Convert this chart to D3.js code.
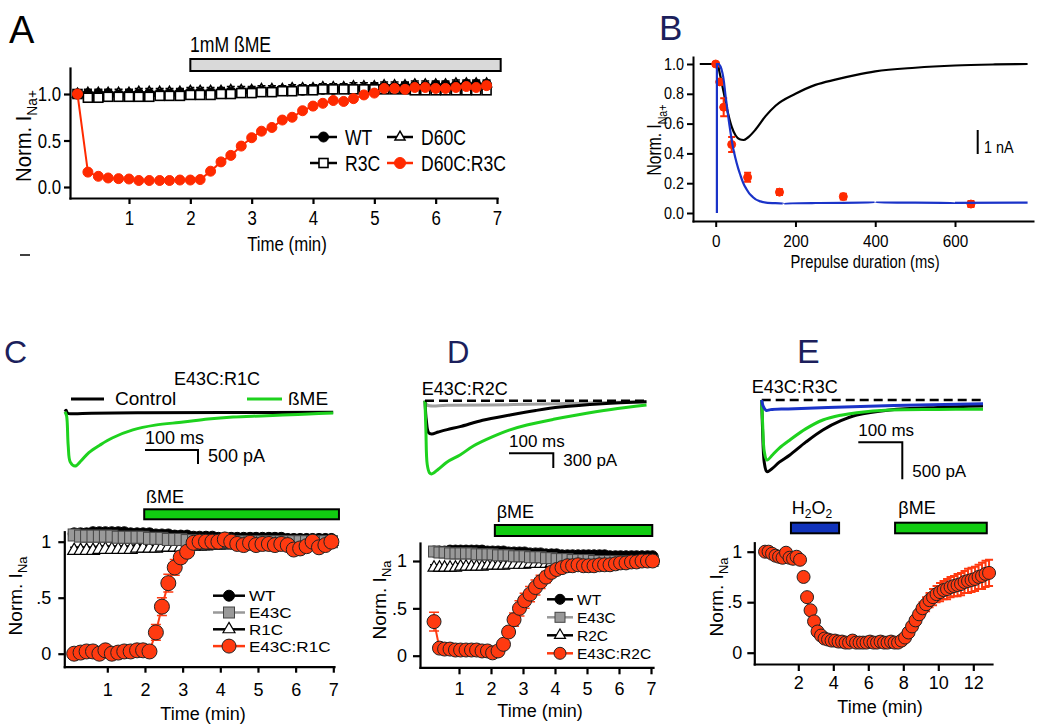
<!DOCTYPE html>
<html><head><meta charset="utf-8">
<script src="https://cdn.jsdelivr.net/npm/d3@7"></script>
<style>body{margin:0;background:#fff}svg{display:block}</style>
</head><body>
<script>
// ---------------- DATA ----------------
// Panel A
const A_time = [0.16,0.33,0.5,0.66,0.83,1.0,1.16,1.33,1.5,1.66,1.83,2.0,2.16,2.33,2.5,2.66,2.83,3.0,3.16,3.33,3.5,3.66,3.83,4.0,4.16,4.33,4.5,4.66,4.83,5.0,5.16,5.33,5.5,5.66,5.83,6.0,6.16,6.33,6.5,6.66,6.83];
const A_D60CR3C = [1.0,0.16,0.115,0.097,0.09,0.086,0.07,0.07,0.07,0.07,0.075,0.075,0.08,0.17,0.27,0.34,0.44,0.53,0.60,0.64,0.72,0.75,0.82,0.87,0.90,0.93,0.92,0.95,0.99,1.01,1.06,1.06,1.05,1.07,1.07,1.06,1.06,1.07,1.08,1.07,1.09];
const A_R3C = [1.0,0.96,0.96,0.97,0.97,0.97,0.97,0.97,0.98,0.98,0.98,0.99,0.99,0.99,1.0,1.0,1.01,1.01,1.02,1.02,1.03,1.03,1.04,1.04,1.05,1.05,1.05,1.05,1.05,1.05,1.05,1.05,1.05,1.04,1.04,1.04,1.04,1.04,1.04,1.04,1.04];
const A_WT = [1.0,1.0,1.0,1.0,0.99,1.0,1.0,1.0,1.0,1.0,1.01,1.01,1.01,1.01,1.02,1.02,1.02,1.03,1.03,1.03,1.04,1.04,1.04,1.05,1.05,1.05,1.06,1.06,1.06,1.07,1.07,1.07,1.08,1.08,1.08,1.09,1.09,1.09,1.1,1.1,1.1];
const A_D60C = [1.0,1.01,1.01,1.01,1.01,1.01,1.02,1.02,1.02,1.02,1.02,1.03,1.03,1.03,1.03,1.04,1.04,1.04,1.05,1.05,1.05,1.06,1.06,1.06,1.07,1.07,1.07,1.08,1.08,1.08,1.09,1.09,1.09,1.1,1.1,1.1,1.1,1.11,1.11,1.11,1.11];
const A_err_red = 0.02, A_err_black = 0.04;
const A_bar = [2.0, 7.06];
const A_xticks = [1,2,3,4,5,6,7], A_yticks = [0,0.5,1.0];
const A_legend = ["WT","D60C","R3C","D60C:R3C"];

// Panel B
const B_black = [[-40,1.0],[0,1.0],[5,0.995],[10,0.94],[20,0.81],[30,0.68],[40,0.58],[50,0.52],[60,0.495],[70,0.49],[80,0.505],[100,0.56],[125,0.65],[150,0.72],[200,0.80],[250,0.86],[300,0.895],[350,0.925],[400,0.95],[500,0.975],[600,0.99],[700,0.997],[782,1.0]];
const B_blue = [[3,0],[3,1.0],[8,1.0],[15,0.96],[25,0.78],[35,0.58],[45,0.42],[60,0.27],[75,0.17],[90,0.115],[110,0.08],[130,0.068],[170,0.064],[250,0.067],[400,0.07],[600,0.068],[782,0.07]];
const B_ptsX = [0,10,20,40,80,160,320,640];
const B_ptsY = [1.0,0.88,0.71,0.46,0.24,0.14,0.11,0.06];
const B_ptsE = [0.0,0.02,0.06,0.05,0.03,0.02,0.02,0.02];
const B_xticks = [0,200,400,600], B_yticks = [0,0.2,0.4,0.6,0.8,1.0];

// Panel C
const C_time = [0.12,0.29,0.45,0.62,0.79,0.95,1.12,1.29,1.45,1.62,1.79,1.95,2.12,2.29,2.45,2.62,2.79,2.95,3.12,3.29,3.45,3.62,3.79,3.95,4.12,4.29,4.45,4.62,4.79,4.95,5.12,5.29,5.45,5.62,5.79,5.95,6.12,6.29,6.45,6.62,6.79,6.95];
const C_E43CR1C = [0.0,0.01,0.02,0.02,0.0,0.03,0.0,0.01,0.02,0.02,0.03,0.03,0.02,0.19,0.42,0.63,0.77,0.86,0.91,0.99,1.0,1.0,1.0,1.0,1.02,1.0,0.98,0.97,0.99,0.97,0.98,0.98,0.97,0.98,0.97,0.93,0.94,0.96,1.0,0.95,0.97,1.0];
const C_E43CR1C_err = [0.01,0.01,0.01,0.01,0.01,0.01,0.01,0.01,0.01,0.01,0.01,0.01,0.01,0.07,0.08,0.08,0.07,0.05,0.04,0.03,0.02,0.02,0.02,0.02,0.02,0.02,0.02,0.02,0.02,0.02,0.02,0.02,0.02,0.02,0.02,0.02,0.02,0.02,0.02,0.02,0.02,0.02];
const C_WT = [1.07,1.07,1.07,1.08,1.08,1.08,1.08,1.08,1.08,1.07,1.07,1.07,1.07,1.06,1.06,1.06,1.05,1.05,1.05,1.04,1.04,1.04,1.04,1.03,1.03,1.03,1.03,1.03,1.03,1.03,1.03,1.03,1.03,1.03,1.02,1.02,1.02,1.02,1.02,1.02,1.02,1.02];
const C_E43C = [1.06,1.05,1.05,1.05,1.05,1.05,1.05,1.04,1.04,1.04,1.04,1.04,1.03,1.03,1.03,1.02,1.02,1.02,1.01,1.01,1.01,1.0,1.0,1.0,1.0,1.0,1.0,1.0,1.0,1.0,1.0,1.0,1.0,1.0,1.0,1.0,1.0,1.0,1.0,1.0,1.0,1.0];
const C_R1C = [0.92,0.92,0.92,0.92,0.93,0.93,0.93,0.93,0.93,0.93,0.94,0.94,0.94,0.94,0.95,0.95,0.95,0.95,0.96,0.96,0.96,0.96,0.97,0.97,0.97,0.98,0.98,0.98,0.98,0.99,0.99,0.99,0.99,0.99,1.0,1.0,1.0,1.0,1.0,1.0,1.0,1.0];
const C_err_black = 0.03;
const C_bar = [1.98, 7.15];
const C_xticks = [1,2,3,4,5,6,7], C_yticks = [0,0.5,1];
const C_legend = ["WT","E43C","R1C","E43C:R1C"];
// C traces (ms, pA)
const C_trControl = [[0,0],[2,50],[5,-55],[15,-70],[50,-55],[150,-40],[300,-30],[506,-20]];
const C_trBME = [[0,0],[3,-150],[6,-1200],[10,-1800],[19,-1940],[30,-1760],[45,-1460],[66,-1190],[90,-930],[128,-650],[170,-480],[223,-370],[270,-260],[317,-190],[370,-150],[411,-120],[460,-80],[506,-50]];

// Panel D
const D_time = [0.22,0.39,0.55,0.72,0.89,1.05,1.22,1.39,1.55,1.72,1.89,2.05,2.22,2.39,2.55,2.72,2.89,3.05,3.22,3.39,3.55,3.72,3.89,4.05,4.22,4.39,4.55,4.72,4.89,5.05,5.22,5.39,5.55,5.72,5.89,6.05,6.22,6.39,6.55,6.72,6.89,7.05];
const D_E43CR2C = [0.36,0.08,0.07,0.07,0.06,0.06,0.06,0.06,0.06,0.05,0.05,0.03,0.05,0.12,0.25,0.38,0.50,0.58,0.65,0.72,0.78,0.83,0.88,0.91,0.93,0.95,0.95,0.96,0.95,0.95,0.95,0.96,0.96,0.96,0.97,0.98,0.98,0.99,0.99,1.0,1.0,1.0];
const D_E43CR2C_err = [0.1,0.02,0.02,0.02,0.02,0.02,0.02,0.02,0.02,0.02,0.02,0.02,0.02,0.03,0.05,0.07,0.08,0.08,0.08,0.08,0.07,0.06,0.05,0.04,0.03,0.03,0.03,0.03,0.03,0.03,0.03,0.03,0.03,0.03,0.03,0.03,0.03,0.03,0.03,0.03,0.03,0.03];
const D_WT = [1.1,1.1,1.1,1.11,1.11,1.11,1.11,1.11,1.11,1.11,1.1,1.1,1.1,1.1,1.09,1.09,1.09,1.09,1.08,1.08,1.08,1.07,1.07,1.07,1.06,1.06,1.06,1.06,1.06,1.06,1.06,1.06,1.06,1.05,1.05,1.05,1.05,1.05,1.05,1.05,1.05,1.05];
const D_E43C = [1.1,1.09,1.09,1.08,1.08,1.08,1.08,1.08,1.07,1.07,1.07,1.07,1.06,1.06,1.06,1.05,1.05,1.05,1.04,1.04,1.04,1.03,1.03,1.02,1.02,1.02,1.01,1.01,1.01,1.01,1.0,1.0,1.0,1.0,1.0,1.0,1.0,1.0,1.0,1.0,1.0,1.0];
const D_R2C = [0.93,0.93,0.93,0.93,0.93,0.94,0.94,0.94,0.94,0.94,0.95,0.95,0.95,0.95,0.96,0.96,0.96,0.96,0.97,0.97,0.97,0.97,0.98,0.98,0.98,0.98,0.99,0.99,0.99,0.99,1.0,1.0,1.0,1.0,1.0,1.0,1.0,1.0,1.0,1.0,1.0,1.0];
const D_err_black = 0.03;
const D_bar = [2.12, 7.04];
const D_xticks = [1,2,3,4,5,6,7], D_yticks = [0,0.5,1];
const D_legend = ["WT","E43C","R2C","E43C:R2C"];
const D_trGray = [[0,0],[5,-90],[50,-95],[200,-80],[350,-50],[500,-20]];
const D_trBlack = [[0,0],[3,-400],[8,-650],[15,-680],[30,-640],[50,-590],[79,-530],[130,-400],[192,-292],[250,-200],[305,-130],[400,-60],[500,-20]];
const D_trGreen = [[0,0],[2,-600],[5,-1300],[10,-1470],[15,-1495],[30,-1400],[50,-1250],[79,-1108],[110,-920],[153,-734],[190,-600],[230,-496],[290,-380],[343,-292],[420,-180],[500,-88]];

// Panel E
const E_time = [0.1,0.3,0.5,0.7,0.9,1.1,1.3,1.5,1.7,1.9,2.1,2.3,2.5,2.7,2.9,3.1,3.3,3.5,3.7,3.9,4.1,4.3,4.5,4.7,4.9,5.1,5.3,5.5,5.7,5.9,6.1,6.3,6.5,6.7,6.9,7.1,7.3,7.5,7.7,7.9,8.1,8.3,8.5,8.7,8.9,9.1,9.3,9.5,9.7,9.9,10.1,10.3,10.5,10.7,10.9,11.1,11.3,11.5,11.7,11.9,12.1,12.3,12.5,12.7,12.9];
const E_E43CR3C = [1.0,1.0,0.98,0.96,0.95,0.94,0.99,0.94,0.93,0.95,0.92,0.75,0.55,0.42,0.31,0.21,0.17,0.14,0.13,0.12,0.12,0.11,0.11,0.10,0.10,0.12,0.10,0.10,0.10,0.10,0.11,0.10,0.10,0.11,0.10,0.10,0.11,0.10,0.10,0.12,0.15,0.20,0.26,0.32,0.38,0.44,0.48,0.52,0.55,0.58,0.60,0.62,0.63,0.65,0.66,0.67,0.68,0.70,0.71,0.72,0.73,0.75,0.76,0.78,0.79];
const E_err = [0.02,0.02,0.02,0.02,0.02,0.02,0.02,0.02,0.02,0.02,0.02,0.03,0.03,0.03,0.03,0.03,0.02,0.02,0.02,0.02,0.02,0.02,0.02,0.02,0.02,0.02,0.02,0.02,0.02,0.02,0.02,0.02,0.02,0.02,0.02,0.02,0.02,0.02,0.02,0.02,0.03,0.03,0.04,0.05,0.05,0.06,0.07,0.07,0.08,0.08,0.09,0.09,0.10,0.10,0.10,0.11,0.11,0.11,0.12,0.12,0.12,0.12,0.13,0.13,0.13];
const E_barH2O2 = [1.58, 4.33], E_barBME = [7.53, 12.77];
const E_xticks = [2,4,6,8,10,12], E_yticks = [0,0.5,1];
const E_trBlack = [[0,0],[2,-400],[6,-850],[12,-968],[25,-920],[40,-840],[64,-743],[100,-570],[139,-405],[180,-280],[216,-203],[291,-135],[400,-100],[503,-81]];
const E_trGreen = [[0,0],[2,-300],[6,-700],[12,-810],[25,-740],[40,-650],[64,-540],[100,-390],[139,-270],[180,-205],[216,-171],[291,-135],[400,-128],[503,-125]];
const E_trBlue = [[0,0],[3,-80],[10,-140],[20,-130],[60,-120],[150,-100],[300,-75],[503,-50]];

// ---------------- DRAWING ----------------
const svg = d3.select("body").append("svg").attr("width",1050).attr("height",727);
const REG = '"Liberation Sans",Arial,sans-serif';
const NAVY = '#1c1f5c', RED = '#ff2a00', RED2 = '#ff3a10', GREEN = '#1ed21e', BLUE = '#1a33c8';
const SX = 0.8; // horizontal condensing used for the narrow lettering in panels A and B

function lin(v0,p0,v1,p1,pA,pB){
  const k=(p1-p0)/(v1-v0), inv=p=>v0+(p-p0)/k;
  return d3.scaleLinear().domain([inv(pA),inv(pB)]).range([pA,pB]);
}
function txt(g,x,y,s,o){
  const t=g.append("text").text(s)
    .attr("font-family",REG).attr("font-size",o.size||16)
    .attr("fill",o.fill||"#000").attr("text-anchor",o.anchor||"start");
  if(o.sx) t.attr("transform",`translate(${x},${y}) scale(${o.sx},1)`);
  else t.attr("x",x).attr("y",y);
  return t;
}
function axes(g,x,y,o){
  const ax=d3.axisBottom(x).tickValues(o.xt).tickFormat(o.xf||(d=>d)).tickSize(o.tick).tickSizeOuter(0).tickPadding(o.xpad);
  const ay=d3.axisLeft(y).tickValues(o.yt).tickFormat(o.yf||(d=>d)).tickSize(o.tick).tickSizeOuter(0).tickPadding(o.ypad);
  const gx=g.append("g").attr("transform",`translate(0,${y.range()[0]})`).call(ax);
  const gy=g.append("g").attr("transform",`translate(${x.range()[0]},0)`).call(ay);
  [gx,gy].forEach(a=>{
    a.select(".domain").attr("stroke","#000").attr("stroke-width",o.lw).attr("stroke-linecap","square");
    a.selectAll(".tick line").attr("stroke","#000").attr("stroke-width",o.lw);
    a.selectAll("text").attr("fill","#000").attr("font-family",REG).attr("font-size",o.fs);
  });
  gx.selectAll("text").attr("font-size",o.xfs||o.fs);
  if(o.sx){
    gx.selectAll("text").attr("transform",`scale(${o.sx},1)`);
    gy.selectAll("text").attr("transform",`scale(${o.sx},1)`).attr("x",-(o.tick+o.ypad)/o.sx);
  }
}
function ylabel(g,x,y,sub,o){
  const t=g.append("text").attr("transform",`translate(${x},${y}) rotate(-90)${o.sx?` scale(${o.sx},1)`:""}`)
    .attr("text-anchor","middle").attr("font-family",REG).attr("font-size",o.size).attr("fill","#000");
  t.append("tspan").text("Norm. I");
  t.append("tspan").text(sub).attr("font-size",o.size*0.68).attr("dy",o.size*0.28);
}
function marker(g,type,cx,cy,s,fill,stroke,sw){
  if(type==="circle") g.append("circle").attr("cx",cx).attr("cy",cy).attr("r",s/2).attr("fill",fill).attr("stroke",stroke).attr("stroke-width",sw);
  else if(type==="square") g.append("rect").attr("x",cx-s/2).attr("y",cy-s/2).attr("width",s).attr("height",s).attr("fill",fill).attr("stroke",stroke).attr("stroke-width",sw);
  else if(type==="triangle") g.append("path").attr("transform",`translate(${cx},${cy})`).attr("d",d3.symbol().type(d3.symbolTriangle).size(s*s*0.433)()).attr("fill",fill).attr("stroke",stroke).attr("stroke-width",sw);
}
function series(g,x,y,ts,vs,es,o){
  if(o.line) g.append("path").datum(ts.map((t,i)=>[t,vs[i]]))
    .attr("d",d3.line().x(d=>x(d[0])).y(d=>y(d[1]))).attr("fill","none").attr("stroke",o.line).attr("stroke-width",o.lw||2);
  if(es!=null) ts.forEach((t,i)=>{
    const e=Array.isArray(es)?es[i]:es; if(!e) return;
    const cx=x(t), y1=y(vs[i]-e), y2=y(vs[i]+e), c=o.cap;
    g.append("path").attr("d",`M${cx},${y1}V${y2}M${cx-c},${y1}H${cx+c}M${cx-c},${y2}H${cx+c}`)
      .attr("stroke",o.err).attr("stroke-width",o.ew||1.5).attr("fill","none");
  });
  ts.forEach((t,i)=>marker(g,o.marker,x(t),y(vs[i]),o.size,o.fill,o.stroke,o.sw));
}
function legendItem(g,x1,x2,y,label,o){
  g.append("line").attr("x1",x1).attr("x2",x2).attr("y1",y).attr("y2",y).attr("stroke",o.line).attr("stroke-width",o.lw||2.5);
  marker(g,o.marker,(x1+x2)/2,y,o.size,o.fill,o.stroke,o.sw);
  txt(g,x2+o.gap,y+o.fsz*0.36,label,{size:o.fsz,sx:o.sx});
}
function bar(g,x,t0,t1,y0,h,fill){
  g.append("rect").attr("x",x(t0)).attr("y",y0).attr("width",x(t1)-x(t0)).attr("height",h)
    .attr("fill",fill).attr("stroke","#000").attr("stroke-width",2);
}
function trace(g,xs,ys,data,color,w,dash){
  const p=g.append("path").datum(data).attr("d",d3.line().x(d=>xs(d[0])).y(d=>ys(d[1])).curve(d3.curveCatmullRom.alpha(0.5)))
    .attr("fill","none").attr("stroke",color).attr("stroke-width",w).attr("stroke-linejoin","round");
  if(dash) p.attr("stroke-dasharray",dash);
}
function scaleBar(g,xs,ys,cornerX,cornerY,ms,pA,lab1,lab2,fs){
  const w=xs(ms)-xs(0), h=ys(-pA)-ys(0);
  g.append("path").attr("d",`M${cornerX-w},${cornerY}H${cornerX}V${cornerY+h}`).attr("fill","none").attr("stroke","#000").attr("stroke-width",2);
  txt(g,cornerX-w,cornerY-6,lab1,{size:fs});
  txt(g,cornerX+10,cornerY+h-2,lab2,{size:fs});
}

// ===== Panel A =====
{
  const g=svg.append("g");
  const x=lin(1,129,7,497,70,497), y=lin(0,187,1,94,198,68);
  txt(g,9,43,"A",{size:38});
  txt(g,190,52,"1mM ßME",{size:22,sx:SX});
  bar(g,x,A_bar[0],A_bar[1],59,12,"#d9d9d9");
  axes(g,x,y,{xt:A_xticks,yt:A_yticks,yf:d3.format(".1f"),tick:6,xpad:6,ypad:3,lw:2.2,fs:21,xfs:21,sx:SX});
  ylabel(g,31,136,"Na+",{size:22,sx:0.92});
  txt(g,287,251,"Time (min)",{size:21,anchor:"middle",sx:SX});
  g.append("line").attr("x1",20).attr("x2",30).attr("y1",255).attr("y2",255).attr("stroke","#000").attr("stroke-width",1.5);
  series(g,x,y,A_time,A_D60C,A_err_black,{marker:"triangle",size:10,fill:"#fff",stroke:"#000",sw:1.5,line:"#000",lw:1.5,err:"#000",cap:4});
  series(g,x,y,A_time,A_WT,A_err_black,{marker:"circle",size:10,fill:"#000",stroke:"#000",sw:1,line:"#000",lw:1.5,err:"#000",cap:4});
  series(g,x,y,A_time,A_R3C,A_err_black,{marker:"square",size:9,fill:"#fff",stroke:"#000",sw:1.6,line:"#000",lw:1.5,err:"#000",cap:4});
  series(g,x,y,A_time,A_D60CR3C,A_err_red,{marker:"circle",size:10,fill:RED,stroke:RED,sw:1,line:RED,lw:2,err:RED,cap:4});
  const lo={fsz:22,gap:8,lw:2.5,sx:SX};
  legendItem(g,310,337,137,A_legend[0],{...lo,marker:"circle",size:10,fill:"#000",stroke:"#000",sw:1,line:"#000"});
  legendItem(g,387,413,137,A_legend[1],{...lo,marker:"triangle",size:10,fill:"#fff",stroke:"#000",sw:1.5,line:"#000"});
  legendItem(g,310,337,163,A_legend[2],{...lo,marker:"square",size:9,fill:"#fff",stroke:"#000",sw:1.6,line:"#000"});
  legendItem(g,387,413,163,A_legend[3],{...lo,marker:"circle",size:11,fill:RED,stroke:RED,sw:1,line:RED});
}

// ===== Panel B =====
{
  const g=svg.append("g");
  const x=lin(0,715.7,600,955,693,1033), y=lin(0,213,1,64,221,57);
  txt(g,659,40,"B",{size:35,fill:NAVY});
  axes(g,x,y,{xt:B_xticks,yt:B_yticks,yf:d3.format(".1f"),tick:6,xpad:8,ypad:3,lw:2,fs:16,xfs:17,sx:0.9});
  ylabel(g,661,140,"Na+",{size:20,sx:0.78});
  txt(g,865,268,"Prepulse duration (ms)",{size:18,anchor:"middle",sx:0.82});
  const line=d3.line().x(d=>x(d[0])).y(d=>y(d[1])).curve(d3.curveMonotoneX);
  g.append("path").datum(B_black).attr("d",line).attr("fill","none").attr("stroke","#000").attr("stroke-width",2.2);
  series(g,x,y,B_ptsX,B_ptsY,B_ptsE,{marker:"circle",size:8,fill:RED,stroke:RED,sw:1,err:RED,cap:3.5,ew:2});
  g.append("path").datum(B_blue).attr("d",d3.line().x(d=>x(d[0])).y(d=>y(d[1])).curve(d3.curveMonotoneY)).attr("fill","none").attr("stroke",BLUE).attr("stroke-width",2.2);
  g.append("line").attr("x1",977.7).attr("x2",977.7).attr("y1",130).attr("y2",154).attr("stroke","#000").attr("stroke-width",2);
  txt(g,984,153,"1 nA",{size:16,sx:0.9});
}

// ===== Panel C =====
{
  const g=svg.append("g");
  txt(g,4,363,"C",{size:32,fill:NAVY});
  txt(g,217,385,"E43C:R1C",{size:18,anchor:"middle"});
  g.append("line").attr("x1",71).attr("x2",104).attr("y1",399).attr("y2",399).attr("stroke","#000").attr("stroke-width",3);
  txt(g,115,405,"Control",{size:19});
  g.append("line").attr("x1",247).attr("x2",282).attr("y1",399).attr("y2",399).attr("stroke",GREEN).attr("stroke-width",3);
  txt(g,288,405,"ßME",{size:19});
  const xs=d3.scaleLinear().domain([0,100]).range([65,118]);
  const ys=d3.scaleLinear().domain([0,-500]).range([411.7,425.7]);
  trace(g,xs,ys,C_trControl,"#000",3);
  trace(g,xs,ys,C_trBME,GREEN,3);
  scaleBar(g,xs,ys,198,450,100,500,"100 ms","500 pA",18);

  const x=lin(1,107.3,7,333.3,64.3,334), y=lin(0,653.7,1,541.7,666.7,531.7);
  txt(g,146,503,"ßME",{size:18});
  bar(g,x,C_bar[0],C_bar[1],509.3,10,"#11cc11");
  axes(g,x,y,{xt:C_xticks,yt:C_yticks,yf:d=>d===0.5?".5":d,tick:6,xpad:11,ypad:7,lw:2.2,fs:18});
  ylabel(g,22,596,"Na",{size:19});
  txt(g,203,720,"Time (min)",{size:18,anchor:"middle"});
  series(g,x,y,C_time,C_WT,C_err_black,{marker:"circle",size:12,fill:"#000",stroke:"#000",sw:1,line:"#000",lw:2,err:"#000",cap:4});
  series(g,x,y,C_time,C_R1C,C_err_black,{marker:"triangle",size:13,fill:"#fff",stroke:"#000",sw:1.2,line:"#000",lw:2,err:"#000",cap:4});
  series(g,x,y,C_time,C_E43C,C_err_black,{marker:"square",size:12,fill:"#999",stroke:"#444",sw:1,line:"#999",lw:2,err:"#777",cap:4});
  series(g,x,y,C_time,C_E43CR1C,C_E43CR1C_err,{marker:"circle",size:15,fill:RED2,stroke:"#222",sw:1,line:RED2,lw:2,err:RED2,cap:5});
  const lo={fsz:15.5,gap:4,lw:2.5,sx:1.1};
  legendItem(g,213,245,595.7,C_legend[0],{...lo,marker:"circle",size:11,fill:"#000",stroke:"#000",sw:1,line:"#000"});
  legendItem(g,213,245,612.5,C_legend[1],{...lo,marker:"square",size:11,fill:"#999",stroke:"#444",sw:1,line:"#999"});
  legendItem(g,213,245,629.3,C_legend[2],{...lo,marker:"triangle",size:12,fill:"#fff",stroke:"#000",sw:1.2,line:"#000"});
  legendItem(g,213,245,646.1,C_legend[3],{...lo,marker:"circle",size:14,fill:RED2,stroke:"#222",sw:1,line:RED2});
}

// ===== Panel D =====
{
  const g=svg.append("g");
  txt(g,447,363,"D",{size:31,fill:NAVY});
  txt(g,421.7,395,"E43C:R2C",{size:18});
  const xs=d3.scaleLinear().domain([0,100]).range([425,469.3]);
  const ys=d3.scaleLinear().domain([0,-300]).range([400.7,415.4]);
  trace(g,xs,ys,D_trGray,"#a0a0a0",3);
  trace(g,xs,ys,D_trBlack,"#000",3);
  trace(g,xs,ys,D_trGreen,GREEN,3);
  trace(g,xs,ys,[[0,0],[500,0]],"#000",2.5,"9,5");
  scaleBar(g,xs,ys,553.3,453.3,100,300,"100 ms","300 pA",17);

  const x=lin(1,459,7,651,420,653), y=lin(0,655.7,1,561,667.3,543);
  txt(g,496.7,518.3,"βME",{size:18});
  bar(g,x,D_bar[0],D_bar[1],525,11,"#11cc11");
  axes(g,x,y,{xt:D_xticks,yt:D_yticks,yf:d=>d===0.5?".5":d,tick:7,xpad:8,ypad:6,lw:2.2,fs:18});
  ylabel(g,386,600,"Na",{size:19});
  txt(g,540,717,"Time (min)",{size:18,anchor:"middle"});
  series(g,x,y,D_time,D_WT,D_err_black,{marker:"circle",size:11,fill:"#000",stroke:"#000",sw:1,line:"#000",lw:2,err:"#000",cap:4});
  series(g,x,y,D_time,D_R2C,D_err_black,{marker:"triangle",size:12,fill:"#fff",stroke:"#000",sw:1.2,line:"#000",lw:2,err:"#000",cap:4});
  series(g,x,y,D_time,D_E43C,D_err_black,{marker:"square",size:11,fill:"#999",stroke:"#444",sw:1,line:"#999",lw:2,err:"#777",cap:4});
  series(g,x,y,D_time,D_E43CR2C,D_E43CR2C_err,{marker:"circle",size:14,fill:RED2,stroke:"#222",sw:1,line:RED2,lw:2,err:RED2,cap:5});
  const lo={fsz:15.5,gap:4,lw:2.5};
  legendItem(g,547,573,599.3,D_legend[0],{...lo,marker:"circle",size:10,fill:"#000",stroke:"#000",sw:1,line:"#000"});
  legendItem(g,547,573,617.3,D_legend[1],{...lo,marker:"square",size:10,fill:"#999",stroke:"#444",sw:1,line:"#999"});
  legendItem(g,547,573,635.3,D_legend[2],{...lo,marker:"triangle",size:11,fill:"#fff",stroke:"#000",sw:1.2,line:"#000"});
  legendItem(g,547,573,653.3,D_legend[3],{...lo,marker:"circle",size:12,fill:RED2,stroke:"#222",sw:1,line:RED2});
}

// ===== Panel E =====
{
  const g=svg.append("g");
  txt(g,797,363,"E",{size:34,fill:NAVY});
  txt(g,751.7,393.3,"E43C:R3C",{size:18});
  const xs=d3.scaleLinear().domain([0,100]).range([761.7,805.7]);
  const ys=d3.scaleLinear().domain([0,-500]).range([400,437]);
  trace(g,xs,ys,E_trBlack,"#000",3);
  trace(g,xs,ys,E_trGreen,GREEN,3);
  trace(g,xs,ys,[[0,0],[503,0]],"#000",2.5,"9,5");
  trace(g,xs,ys,E_trBlue,BLUE,3);
  scaleBar(g,xs,ys,902.3,442.3,100,500,"100 ms","500 pA",17);

  const x=lin(2,798.3,12,973.3,754.3,992), y=lin(0,652.7,1,551.7,664,542.7);
  const h=txt(g,791.7,514,"",{size:18});
  h.append("tspan").text("H"); h.append("tspan").text("2").attr("font-size",12).attr("dy",4);
  h.append("tspan").text("O").attr("dy",-4); h.append("tspan").text("2").attr("font-size",12).attr("dy",4);
  txt(g,898.3,514,"βME",{size:18});
  bar(g,x,E_barH2O2[0],E_barH2O2[1],522.7,10.6,"#1133bb");
  bar(g,x,E_barBME[0],E_barBME[1],522.7,10.6,"#11cc11");
  axes(g,x,y,{xt:E_xticks,yt:E_yticks,yf:d=>d===0.5?".5":d,tick:7,xpad:5,ypad:5,lw:2.2,fs:18});
  ylabel(g,723,597,"Na",{size:19});
  txt(g,880,713,"Time (min)",{size:18,anchor:"middle"});
  series(g,x,y,E_time,E_E43CR3C,E_err,{marker:"circle",size:13,fill:RED2,stroke:"#222",sw:1,err:RED2,cap:4,ew:2});
}
</script>
</body></html>
